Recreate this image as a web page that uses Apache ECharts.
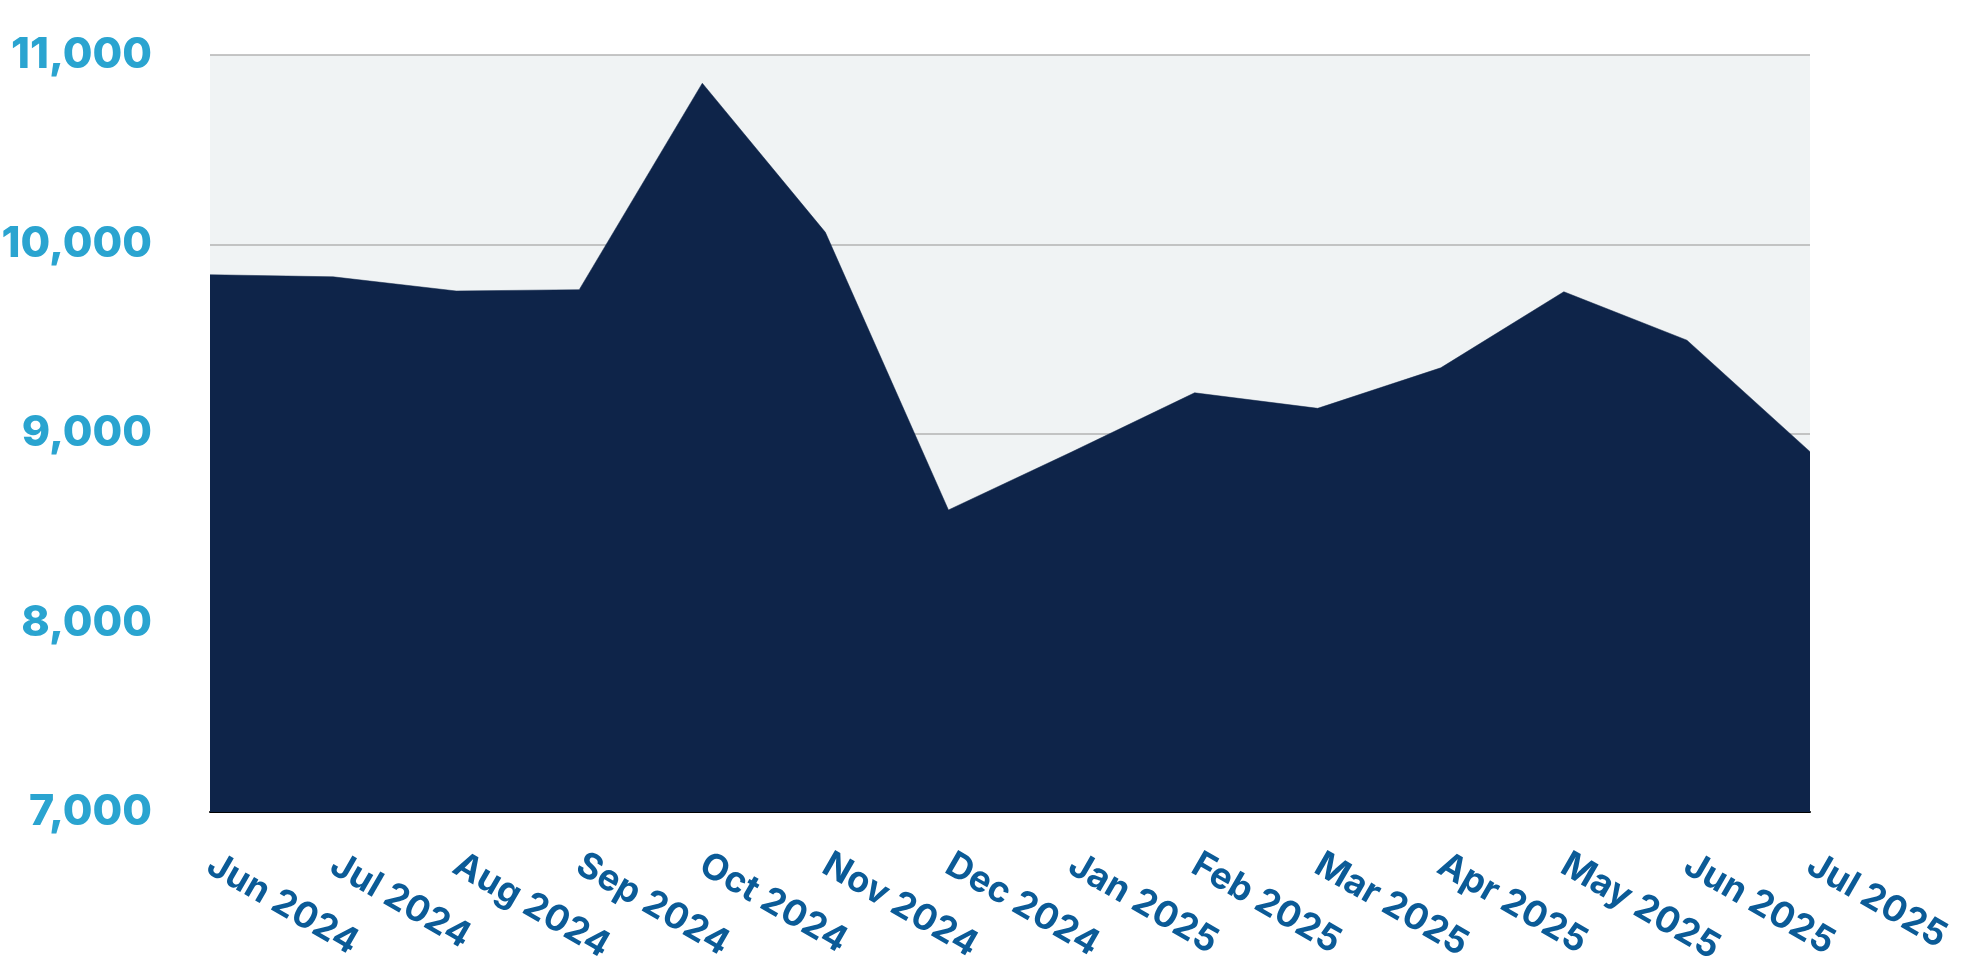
<!DOCTYPE html>
<html>
<head>
<meta charset="utf-8">
<script src="https://cdn.jsdelivr.net/npm/echarts@6/dist/echarts.min.js"></script>
<style>
html,body{margin:0;padding:0;background:#ffffff;}
#chart{width:1968px;height:964px;}
</style>
</head>
<body>
<div id="chart"></div>
<script>
const categories = ["Jun 2024","Jul 2024","Aug 2024","Sep 2024","Oct 2024","Nov 2024","Dec 2024","Jan 2025","Feb 2025","Mar 2025","Apr 2025","May 2025","Jun 2025","Jul 2025"];
const values = [9839, 9828, 9753, 9760, 10851, 10063, 8596, 8902, 9215, 9133, 9347, 9749, 9493, 8904];
const yMin = 7000;
const yMax = 11000;
const yStep = 1000;

const chart = echarts.init(document.getElementById('chart'), null, {renderer: 'canvas'});
chart.setOption({
  animation: false,
  backgroundColor: '#ffffff',
  grid: {
    left: 210, right: 158, top: 55, bottom: 152,
    show: true, backgroundColor: '#f0f3f4', borderWidth: 0,
    containLabel: false,
    outerBoundsMode: 'none'
  },
  xAxis: {
    type: 'category',
    data: categories,
    boundaryGap: false,
    axisLine: {show: true, lineStyle: {color: '#000000', width: 2}},
    axisTick: {show: false},
    splitLine: {show: false},
    axisLabel: {
      interval: 0,
      rotate: -30,
      margin: 50,
      color: '#0b5b97',
      fontFamily: 'Inter',
      fontWeight: 700,
      fontSize: 36
    }
  },
  yAxis: {
    type: 'value',
    min: yMin, max: yMax, interval: yStep,
    axisLine: {show: false},
    axisTick: {show: false},
    splitLine: {show: true, lineStyle: {color: '#b3b3b3', width: 1.5}},
    axisLabel: {
      margin: 58,
      color: '#2aa4d0',
      fontFamily: 'Inter',
      fontWeight: 800,
      fontSize: 43,
      formatter: v => v.toLocaleString('en-US')
    }
  },
  series: [{
    type: 'line',
    data: values,
    symbol: 'none',
    lineStyle: {width: 0.5, color: '#0e2449'},
    areaStyle: {color: '#0e2449', opacity: 1, origin: 'start'},
    z: 3
  }]
});
</script>
</body>
</html>
